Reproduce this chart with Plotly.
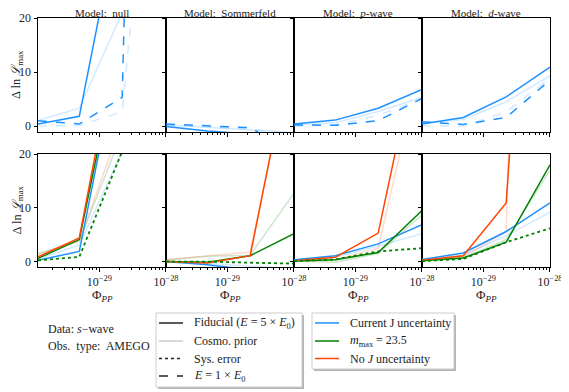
import numpy as np
import plotly.graph_objects as go
from plotly.subplots import make_subplots

# x positions of the scanned Phi_PP values
PHI = [1.2e-30, 5e-30, 2.2e-29, 1e-28]
MODELS = ["Model:  null", "Model:  Sommerfeld", "Model:  <i>p</i>-wave", "Model:  <i>d</i>-wave"]
XTICKS = [1e-29, 1e-28]
XTICK_TEXT = ["10<sup>−29</sup>", "10<sup>−28</sup>"]
YTICKS = [0, 10, 20]

# top row (current J uncertainty), one row per model: null, Sommerfeld, p-wave, d-wave
TOP_FID = [[0.37, 1.8, 42, 100], [-0.1, -0.9, -1.5, -2.0], [0.37, 1.1, 3.3, 6.8], [0.37, 1.6, 5.4, 10.9]]
TOP_COSMO = [[1.0, 3.3, 21, 60], [0.2, -0.3, -0.7, -1.2], [0.2, 0.6, 2.7, 5.3], [0.5, 1.2, 4.5, 9.3]]
TOP_E1 = [[1.0, 0.37, 5.3, 330], [0.37, 0.0, -0.3, -5.0], [0.2, 0.15, 1.0, 5.1], [0.8, 0.3, 1.6, 8.5]]
TOP_E1_COSMO = [[0.0, 0.1, 2.65, 87], [0.1, -0.1, -0.6, -1.5], [0.0, 0.2, 2.0, 5.0], [0.0, 0.0, 2.6, 8.9]]

# bottom row (J uncertainty treatments)
CUR = [[0.25, 1.9, 42, 100], [0.0, -0.6, -1.5, -2.0], [0.37, 1.1, 3.3, 6.85], [0.4, 1.6, 5.6, 10.9]]
CUR_COSMO = [[0.5, 3.1, 20.5, 60], [0.1, -0.3, -0.8, -1.5], [0.3, 0.8, 2.9, 5.2], [0.3, 1.2, 4.8, 9.2]]
MMAX = [[0.6, 4.1, 42.6, 100], [0.0, -0.1, 1.1, 5.2], [0.12, 0.37, 1.7, 9.5], [0.18, 0.68, 3.6, 18.0]]
MMAX_COSMO = [[1.5, 3.8, 24, 60], [0.3, 1.0, 1.2, 12.7], [0.1, -0.1, 1.5, 8.7], [0.1, 0.7, 4.1, 17.0]]
NOJ = [[0.87, 4.4, 46, 100], [0.0, -0.25, 1.1, 41.7], [0.18, 0.8, 5.3, 43.6], [0.25, 1.1, 10.9, 130]]
NOJ_COSMO = [[1.3, 3.9, 26, 60], [0.37, 1.1, 1.8, 40], [0.1, 0.3, 2.5, 38], [0.2, 0.9, 5.5, 300]]
SYS = [[0.25, 0.87, 20.5, 60], [0.0, 0.0, -0.2, -0.37], [0.1, 0.4, 1.9, 2.5], [0.1, 0.5, 3.6, 6.2]]

# legend labels
LEG1 = ["Fiducial (<i>E</i> = 5 × <i>E</i><sub>0</sub>)", "Cosmo. prior", "Sys. error",
        "<i>E</i> = 1 × <i>E</i><sub>0</sub>"]
LEG2 = ["Current J uncertainty", "<i>m</i><sub>max</sub> = 23.5", "No <i>J</i> uncertainty"]

# the page body keeps its default 8px margin, so the figure fills what is left of the window
OFF = 8
W, H = 569 - OFF, 392 - OFF
FONT = "Liberation Serif"
TXT = "#222222"
blue, green, red = "rgb(30,144,255)", "rgb(0,128,0)", "rgb(255,69,0)"
lblue, lgreen, lred = "rgba(30,144,255,0.2)", "rgba(0,128,0,0.2)", "rgba(255,69,0,0.2)"


def px(x, y):
    # window pixel -> paper fraction
    return (x - OFF) / W, 1 - (y - OFF) / H


fig = make_subplots(rows=2, cols=4)


def line(y, color, dash="solid", width=1.5):
    return go.Scatter(x=PHI, y=y, mode="lines", showlegend=False, hoverinfo="skip",
                      line=dict(color=color, dash=dash, width=width))


for c in range(4):
    fig.add_trace(line(TOP_E1_COSMO[c], lblue, "dash"), row=1, col=c + 1)
    fig.add_trace(line(TOP_COSMO[c], lblue), row=1, col=c + 1)
    fig.add_trace(line(TOP_E1[c], blue, "dash"), row=1, col=c + 1)
    fig.add_trace(line(TOP_FID[c], blue), row=1, col=c + 1)

    fig.add_trace(line(CUR_COSMO[c], lblue), row=2, col=c + 1)
    fig.add_trace(line(MMAX_COSMO[c], lgreen), row=2, col=c + 1)
    fig.add_trace(line(NOJ_COSMO[c], lred), row=2, col=c + 1)
    fig.add_trace(line(CUR[c], blue), row=2, col=c + 1)
    fig.add_trace(line(MMAX[c], green), row=2, col=c + 1)
    fig.add_trace(line(NOJ[c], red), row=2, col=c + 1)
    fig.add_trace(line(SYS[c], green, "dot", 1.8), row=2, col=c + 1)

xl = [38, 166, 294, 422, 550]
rows_px = [(18, 132), (154, 267)]
yranges = [[-1.1, 20], [-1.0, 20]]
minor_vals = [k * 10.0 ** e for e in (-30, -29) for k in range(2, 10)]

for r in range(2):
    top, bot = rows_px[r]
    for c in range(4):
        x0, y1 = px(xl[c], top)
        x1, y0 = px(xl[c + 1], bot)
        fig.update_xaxes(
            type="log", domain=[x0, x1], automargin=False,
            range=[np.log10(PHI[0]), np.log10(PHI[-1]) + 1e-4],
            tickmode="array", tickvals=XTICKS, ticktext=XTICK_TEXT,
            showticklabels=(r == 1),
            ticks="outside", ticklen=3.5, tickwidth=0.8, tickcolor="black",
            minor=dict(ticks="outside", ticklen=2, tickwidth=0.6, tickcolor="black",
                       tickmode="array", tickvals=minor_vals),
            showgrid=False, zeroline=False, showline=True, linecolor="black",
            linewidth=1, mirror=True, tickfont=dict(family=FONT, size=12, color=TXT),
            row=r + 1, col=c + 1)
        fig.update_yaxes(
            domain=[y0, y1], range=yranges[r], automargin=False,
            tickvals=YTICKS, showticklabels=(c == 0),
            ticks="outside", ticklen=3.5, tickwidth=0.8, tickcolor="black",
            showgrid=False, zeroline=False, showline=True, linecolor="black",
            linewidth=1, mirror=True, tickfont=dict(family=FONT, size=12, color=TXT),
            row=r + 1, col=c + 1)

ann = []
shapes = []


def text(x, y, s, size=12, xanchor="center", **kw):
    ax, ay = px(x, y)
    ann.append(dict(x=ax, y=ay, xref="paper", yref="paper", text=s, showarrow=False,
                    xanchor=xanchor, yanchor="middle",
                    font=dict(size=size, family=FONT, color=TXT), **kw))


for c in range(4):
    mid = (xl[c] + xl[c + 1]) / 2
    text(mid, 13, MODELS[c], 11)
    text(mid, 295, "Φ<sub><i>PP</i></sub>", 13)
for top, bot in rows_px:
    text(17, (top + bot) / 2, "Δ ln <i>ℒ</i><sub>max</sub>", 12.5, textangle=-90)
text(46, 329, "Data: <i>s</i>−wave", 12, xanchor="left")
text(46, 346, "Obs.  type:  AMEGO", 12, xanchor="left")


# hand-drawn legend boxes (matplotlib style with drop shadow)
def legend_box(x0, y0, x1, y1):
    a0, b1 = px(x0 + 2, y0 + 2)
    a1, b0 = px(x1 + 2, y1 + 2)
    shapes.append(dict(type="rect", xref="paper", yref="paper", x0=a0, x1=a1, y0=b0, y1=b1,
                       fillcolor="rgba(120,120,120,0.55)", line=dict(width=0)))
    a0, b1 = px(x0, y0)
    a1, b0 = px(x1, y1)
    shapes.append(dict(type="rect", xref="paper", yref="paper", x0=a0, x1=a1, y0=b0, y1=b1,
                       fillcolor="white", line=dict(color="#cccccc", width=1)))


def legend_row(x, y, label, color, dash):
    a0, b = px(x, y)
    a1, _ = px(x + 24, y)
    shapes.append(dict(type="line", xref="paper", yref="paper", x0=a0, x1=a1, y0=b, y1=b,
                       line=dict(color=color, dash=dash, width=1.5)))
    text(x + 33, y, label, 12, xanchor="left")


legend_box(156, 313, 302, 387)
legend_box(312, 313, 454, 369)
rows1 = [323, 341, 358.5, 376]
styles1 = [("#222222", "solid"), ("#cccccc", "solid"), ("#222222", "dot"), ("#222222", "dash")]
for y, label, (col, dash) in zip(rows1, LEG1, styles1):
    legend_row(159, y, label, col, dash)
for y, label, col in zip(rows1, LEG2, [blue, green, red]):
    legend_row(315, y, label, col, "solid")

fig.update_layout(
    width=W, height=H, margin=dict(l=0, r=0, t=0, b=0, pad=0), autosize=False,
    paper_bgcolor="white", plot_bgcolor="white",
    annotations=ann, shapes=shapes, showlegend=False,
)

fig.write_html("out.html")
